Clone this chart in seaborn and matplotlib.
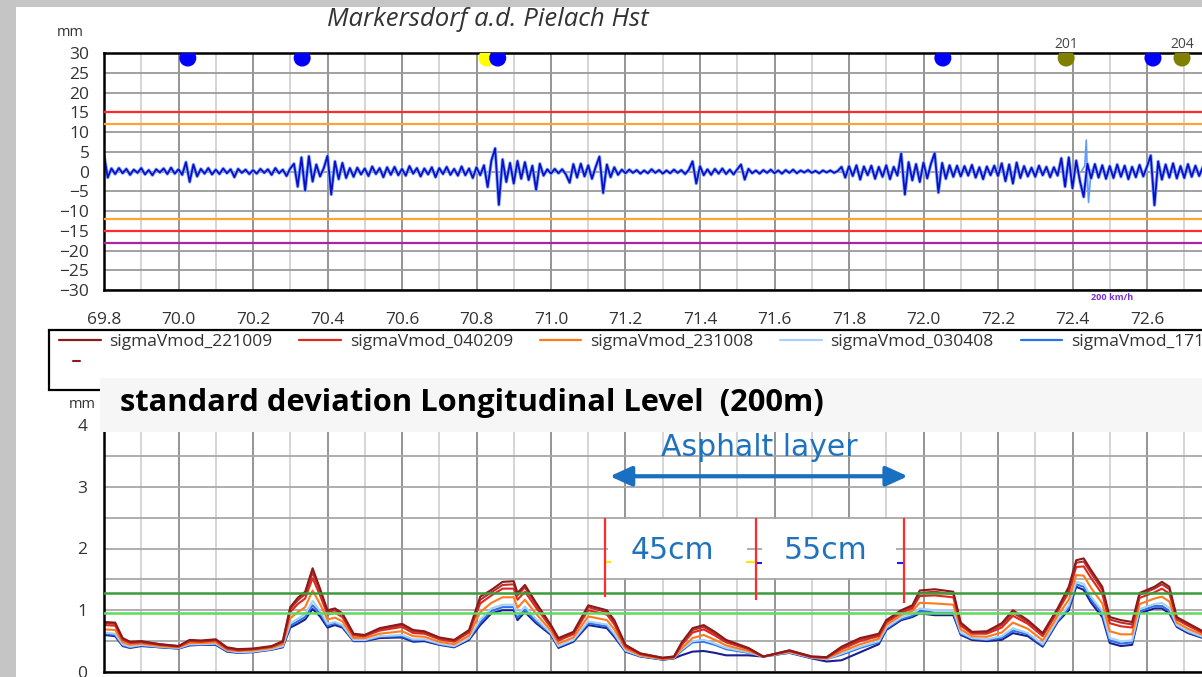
import numpy as np
import pandas as pd
import matplotlib
matplotlib.use("Agg")
import matplotlib.pyplot as plt
import matplotlib.patheffects as pe
from matplotlib.patches import Rectangle
from matplotlib.lines import Line2D
from matplotlib.ticker import MultipleLocator, FormatStrFormatter
import seaborn as sns

# ---------------- data ----------------
# top panel: longitudinal level signal, one value every 10 m from km 69.80
sig_start = 69.80
sig_step = 0.01
sig_mm = [
    4.2, -1.5, 0.8, -0.6, 0.9, -0.4, 0.7, -0.8, 0.5, -0.3,
    0.9, -0.7, 0.4, -0.9, 0.6, -0.2, 0.8, -0.6, 1.0, -0.5,
    0.6, -0.8, 2.4, -2.6, 1.8, -1.2, 0.7, -0.5, 0.9, -0.7,
    0.5, -0.6, 0.8, -0.4, 0.6, -1.4, 0.7, -0.3, 0.5, -0.6,
    0.4, -0.5, 0.7, -0.3, 0.6, -0.8, 0.9, -0.4, 0.5, -1.1,
    0.8, 2.0, -3.8, 3.6, -4.8, 3.9, -2.5, 1.8, -1.2, 0.9,
    4.0, -5.8, 2.6, -1.9, 2.2, -1.6, 0.9, -1.3, 1.0, -0.7,
    0.8, -1.1, 1.3, -0.6, 0.9, -1.4, 1.1, -0.8, 1.2, -0.9,
    0.7, -1.0, 1.4, -0.5, 0.9, -1.2, 0.8, -0.7, 1.1, -1.4,
    0.9, -0.6, 1.2, -0.8, 0.7, -1.0, 1.3, -0.9, 0.8, -1.6,
    1.1, -0.9, 1.6, -3.9, 2.8, 5.9, -8.4, 3.1, -2.6, 2.2,
    -3.0, 2.7, -1.8, 2.4, -2.1, 1.5, -4.6, 2.0, -1.0, 0.6,
    -0.5, 0.7, -0.4, 0.6, -0.7, -2.8, 1.9, -1.5, 2.0, -1.2,
    1.6, -1.8, 1.2, 3.8, -5.4, 1.8, -1.4, 1.1, -0.8, 0.5,
    -0.4, 0.5, -0.3, 0.4, -0.5, 0.3, -0.4, 0.6, -0.3, 0.4,
    -0.5, 0.3, -0.4, 0.5, -0.3, 0.4, -0.6, 0.5, 2.6, -3.0,
    1.4, -0.9, 0.6, -0.8, 0.7, -0.5, 0.8, -0.6, 0.5, -0.7,
    0.6, 1.8, -2.0, 0.7, -0.4, 0.3, -0.5, 0.4, -0.3, 0.5,
    -0.4, 0.3, -0.5, 0.4, -0.3, 0.5, -0.4, 0.3, -0.2, 0.4,
    -0.3, 0.2, -0.4, 0.3, -0.2, 0.3, -0.3, 0.2, 1.2, -1.5,
    1.4, -1.1, 1.6, -2.0, 1.3, -0.9, 1.5, -1.8, 1.2, -1.3,
    1.6, -1.9, 1.2, -1.0, 4.6, -5.8, 2.4, -2.2, 1.9, -2.6,
    2.3, -1.7, 2.0, 4.7, -5.3, 2.2, -1.8, 1.6, -1.3, 1.5,
    -1.2, 1.4, -1.0, 1.7, -1.5, 1.1, -1.9, 1.3, -0.9, 1.5,
    -1.1, 2.1, -2.4, 1.8, -3.0, 2.3, -1.6, 1.4, -1.2, 1.0,
    -1.3, 1.5, -0.9, 1.2, -1.4, 1.1, -1.0, 3.4, -3.8, 3.6,
    -4.2, 2.8, -2.4, -6.4, 2.0, -1.7, 1.9, -1.5, 1.6, -1.8,
    1.4, -1.6, 1.8, -1.3, 1.5, -1.9, 1.2, -1.4, 1.7, -1.2,
    1.3, 4.1, -8.5, 2.6, -2.0, 1.8, -1.5, 2.1, -1.7, 1.4,
    -1.6, 1.9, -1.3, 1.5, -1.1, 1.2,
]
# second (light blue) run, only visible at the spike near km 72.44
sig2_km = [72.425, 72.433, 72.437, 72.440, 72.443, 72.450]
sig2_mm = [0.3, 1.5, 8.0, -1.0, -7.8, 0.4]

limit_mm = [15, -15, 12, -12, -18]
limit_colors = ["#ff2a2a", "#ff2a2a", "#ffa432", "#ffa432", "#a8269f"]

marker_km = [70.025, 70.332, 70.828, 70.857, 72.052, 72.383, 72.616, 72.694]
marker_colors = ["#0000ff", "#0000ff", "#ffff00", "#0000ff", "#0000ff",
                 "#808000", "#0000ff", "#808000"]
marker_labels = {72.383: "201", 72.694: "204"}

# bottom panel: standard deviation (200 m window) per measuring run
km_sigma = [69.80, 69.83, 69.85, 69.87, 69.90, 69.95, 70.00, 70.03, 70.06, 70.10,
            70.13, 70.16, 70.20, 70.25, 70.28, 70.30, 70.32, 70.34, 70.36, 70.38,
            70.40, 70.42, 70.44, 70.47, 70.50, 70.54, 70.60, 70.63, 70.66, 70.70,
            70.74, 70.78, 70.81, 70.84, 70.87, 70.90, 70.91, 70.93, 70.96, 71.00,
            71.02, 71.06, 71.10, 71.15, 71.17, 71.20, 71.24, 71.30, 71.33, 71.35,
            71.38, 71.41, 71.44, 71.47, 71.53, 71.57, 71.64, 71.70, 71.74, 71.78,
            71.83, 71.88, 71.90, 71.94, 71.97, 71.99, 72.03, 72.08, 72.10, 72.13,
            72.17, 72.21, 72.24, 72.28, 72.32, 72.36, 72.39, 72.41, 72.43, 72.45,
            72.48, 72.50, 72.53, 72.56, 72.58, 72.62, 72.64, 72.66, 72.68, 72.71,
            72.75]
sigma_221009 = [0.81, 0.80, 0.55, 0.49, 0.50, 0.45, 0.42, 0.52, 0.51, 0.53,
                0.40, 0.37, 0.38, 0.42, 0.50, 1.05, 1.20, 1.30, 1.68, 1.35,
                1.00, 1.03, 0.95, 0.62, 0.60, 0.71, 0.78, 0.68, 0.66, 0.56,
                0.52, 0.68, 1.22, 1.33, 1.46, 1.47, 1.28, 1.41, 1.12, 0.76,
                0.55, 0.65, 1.08, 1.00, 0.84, 0.44, 0.30, 0.23, 0.25, 0.47,
                0.71, 0.76, 0.65, 0.52, 0.39, 0.25, 0.35, 0.25, 0.24, 0.41,
                0.55, 0.62, 0.84, 1.00, 1.08, 1.32, 1.34, 1.30, 0.80, 0.65,
                0.66, 0.79, 1.00, 0.84, 0.63, 1.03, 1.38, 1.81, 1.84, 1.65,
                1.38, 0.89, 0.84, 0.81, 1.28, 1.38, 1.46, 1.38, 0.89, 0.79,
                0.66]
sigma_run6 = [0.79, 0.78, 0.54, 0.48, 0.49, 0.45, 0.42, 0.51, 0.50, 0.52,
              0.39, 0.36, 0.37, 0.41, 0.49, 1.02, 1.16, 1.26, 1.61, 1.31,
              0.97, 1.00, 0.93, 0.61, 0.59, 0.69, 0.76, 0.66, 0.64, 0.55,
              0.51, 0.66, 1.17, 1.29, 1.41, 1.42, 1.24, 1.37, 1.09, 0.74,
              0.53, 0.63, 1.05, 0.97, 0.81, 0.43, 0.30, 0.23, 0.25, 0.45,
              0.68, 0.73, 0.62, 0.50, 0.38, 0.25, 0.35, 0.25, 0.24, 0.39,
              0.53, 0.60, 0.82, 0.98, 1.06, 1.28, 1.30, 1.26, 0.78, 0.64,
              0.64, 0.76, 0.96, 0.81, 0.61, 1.01, 1.34, 1.77, 1.79, 1.60,
              1.33, 0.85, 0.80, 0.77, 1.25, 1.35, 1.42, 1.34, 0.87, 0.77,
              0.65]
sigma_040209 = [0.76, 0.75, 0.52, 0.47, 0.48, 0.44, 0.41, 0.50, 0.49, 0.51,
                0.38, 0.35, 0.37, 0.41, 0.48, 0.97, 1.10, 1.19, 1.52, 1.24,
                0.93, 0.96, 0.89, 0.59, 0.58, 0.67, 0.73, 0.63, 0.62, 0.53,
                0.49, 0.64, 1.11, 1.24, 1.35, 1.35, 1.17, 1.30, 1.04, 0.72,
                0.51, 0.61, 1.00, 0.93, 0.77, 0.41, 0.29, 0.22, 0.24, 0.43,
                0.64, 0.69, 0.59, 0.48, 0.37, 0.25, 0.34, 0.24, 0.23, 0.37,
                0.50, 0.58, 0.80, 0.96, 1.03, 1.23, 1.24, 1.21, 0.75, 0.62,
                0.62, 0.72, 0.91, 0.78, 0.58, 0.98, 1.29, 1.70, 1.71, 1.52,
                1.26, 0.79, 0.74, 0.72, 1.20, 1.29, 1.35, 1.27, 0.85, 0.75,
                0.63]
sigma_231008 = [0.69, 0.68, 0.48, 0.44, 0.46, 0.42, 0.40, 0.47, 0.47, 0.48,
                0.36, 0.34, 0.35, 0.39, 0.45, 0.87, 0.97, 1.05, 1.32, 1.10,
                0.85, 0.88, 0.82, 0.55, 0.55, 0.62, 0.66, 0.58, 0.57, 0.49,
                0.45, 0.59, 0.97, 1.12, 1.21, 1.21, 1.04, 1.17, 0.94, 0.67,
                0.46, 0.56, 0.90, 0.84, 0.69, 0.38, 0.27, 0.21, 0.23, 0.38,
                0.55, 0.60, 0.52, 0.43, 0.34, 0.25, 0.33, 0.24, 0.22, 0.33,
                0.45, 0.54, 0.76, 0.92, 0.99, 1.12, 1.11, 1.09, 0.69, 0.58,
                0.57, 0.64, 0.80, 0.70, 0.51, 0.91, 1.17, 1.57, 1.56, 1.36,
                1.11, 0.66, 0.61, 0.61, 1.10, 1.19, 1.22, 1.14, 0.80, 0.70,
                0.60]
sigma_030408 = [0.64, 0.62, 0.45, 0.41, 0.44, 0.41, 0.39, 0.45, 0.45, 0.46,
                0.35, 0.32, 0.33, 0.37, 0.42, 0.79, 0.86, 0.94, 1.15, 0.99,
                0.78, 0.81, 0.76, 0.52, 0.52, 0.58, 0.60, 0.53, 0.53, 0.46,
                0.42, 0.55, 0.85, 1.03, 1.09, 1.09, 0.93, 1.06, 0.86, 0.63,
                0.42, 0.52, 0.82, 0.77, 0.62, 0.35, 0.26, 0.21, 0.23, 0.36,
                0.50, 0.52, 0.46, 0.39, 0.32, 0.25, 0.32, 0.23, 0.21, 0.30,
                0.41, 0.50, 0.72, 0.88, 0.94, 1.03, 1.00, 1.00, 0.64, 0.55,
                0.53, 0.58, 0.71, 0.63, 0.45, 0.85, 1.08, 1.46, 1.43, 1.22,
                0.99, 0.55, 0.50, 0.51, 1.02, 1.10, 1.12, 1.04, 0.76, 0.66,
                0.57]
sigma_1710 = [0.62, 0.60, 0.43, 0.40, 0.43, 0.40, 0.38, 0.44, 0.45, 0.45,
              0.34, 0.32, 0.33, 0.37, 0.41, 0.75, 0.82, 0.89, 1.08, 0.95,
              0.75, 0.79, 0.74, 0.51, 0.51, 0.57, 0.58, 0.51, 0.52, 0.45,
              0.41, 0.54, 0.80, 0.99, 1.05, 1.05, 0.88, 1.01, 0.82, 0.62,
              0.41, 0.51, 0.79, 0.74, 0.60, 0.34, 0.26, 0.20, 0.22, 0.34,
              0.48, 0.49, 0.44, 0.37, 0.31, 0.25, 0.32, 0.23, 0.21, 0.28,
              0.39, 0.48, 0.70, 0.86, 0.91, 0.99, 0.96, 0.96, 0.62, 0.54,
              0.52, 0.55, 0.67, 0.61, 0.43, 0.83, 1.04, 1.42, 1.38, 1.17,
              0.94, 0.51, 0.46, 0.48, 0.98, 1.07, 1.07, 0.99, 0.75, 0.65,
              0.56]
sigma_run7 = [0.60, 0.58, 0.42, 0.39, 0.42, 0.40, 0.38, 0.43, 0.44, 0.44,
              0.33, 0.31, 0.32, 0.36, 0.40, 0.72, 0.78, 0.85, 1.02, 0.90,
              0.72, 0.76, 0.72, 0.50, 0.50, 0.55, 0.56, 0.49, 0.50, 0.44,
              0.40, 0.52, 0.76, 0.95, 1.00, 1.00, 0.84, 0.97, 0.79, 0.60,
              0.39, 0.49, 0.76, 0.71, 0.57, 0.33, 0.25, 0.20, 0.22, 0.27,
              0.33, 0.34, 0.31, 0.27, 0.27, 0.25, 0.31, 0.22, 0.17, 0.19,
              0.32, 0.45, 0.68, 0.84, 0.89, 0.95, 0.92, 0.92, 0.60, 0.52,
              0.50, 0.52, 0.63, 0.58, 0.41, 0.81, 1.00, 1.38, 1.33, 1.12,
              0.89, 0.47, 0.42, 0.44, 0.95, 1.03, 1.03, 0.95, 0.73, 0.63,
              0.55]

runs = ["sigmaVmod_221009", "sigmaVmod_run6", "sigmaVmod_040209", "sigmaVmod_231008",
        "sigmaVmod_030408", "sigmaVmod_171008", "sigmaVmod_run7"]
run_values = [sigma_221009, sigma_run6, sigma_040209, sigma_231008,
              sigma_030408, sigma_1710, sigma_run7]
run_colors = ["#8b1a1a", "#b8322a", "#e3261e", "#ff7a1c", "#a9d1f7", "#2a73e8", "#1b1f8f"]
legend_runs = runs[0:1] + runs[2:6]

sigma_limits = [1.28, 0.96]
sigma_limit_colors = ["#3c9c3c", "#5fd95f"]

# asphalt layer section
asphalt_km = [71.158, 71.958]
cut_km = [71.145, 71.55, 71.948]
cut_bottom = [1.21, 1.17, 1.12]
depth_labels = ["45cm", "55cm"]
depth_km = [71.327, 71.738]

# ---------------- figure ----------------
W, H = 1202, 677
sns.set_style("white")
plt.rcParams["font.family"] = ["Open Sans", "DejaVu Sans"]

fig = plt.figure(figsize=(W / 100, H / 100), dpi=100, facecolor="#c5c5c5")


def fx(px):
    return px / W


def fy(py):
    return 1 - py / H


fig.add_artist(Rectangle((fx(16), 0), 1, fy(7), transform=fig.transFigure,
                         facecolor="white", edgecolor="none", zorder=-5))

x_lim = (69.8, 69.8 + 1098 / 372.5)
tick_col = "#333333"

# ---- top panel ----
ax1 = fig.add_axes([fx(104), fy(290), 1098 / W, (290 - 53.3) / H])
sig_km = sig_start + sig_step * np.arange(len(sig_mm))
sns.lineplot(x=sig2_km, y=sig2_mm, ax=ax1, color="#5f9bff", lw=1.2, sort=False)
sns.lineplot(x=sig_km, y=sig_mm, ax=ax1, color="#0b10c6", lw=1.3,
             path_effects=[pe.Stroke(linewidth=2.5, foreground="#86adff"), pe.Normal()])
for val, col in zip(limit_mm, limit_colors):
    ax1.axhline(val, color=col, lw=1.6, zorder=3)
ax1.scatter(marker_km, np.full(len(marker_km), 28.8), s=150, c=marker_colors,
            linewidths=0, zorder=5)
for km, lab in marker_labels.items():
    ax1.text(km, 32.2, lab, ha="center", va="center", fontsize=10, color="#444444",
             clip_on=False)

ax1.set_xlim(*x_lim)
ax1.set_ylim(-30, 30)
ax1.yaxis.set_major_locator(MultipleLocator(5))
ax1.xaxis.set_major_locator(MultipleLocator(0.2))
ax1.xaxis.set_minor_locator(MultipleLocator(0.1))
ax1.xaxis.set_major_formatter(FormatStrFormatter("%.1f"))
ax1.grid(which="major", axis="x", color="#8c8c8c", lw=1.3)
ax1.grid(which="minor", axis="x", color="#d2d2d2", lw=1.3)
ax1.grid(which="major", axis="y", color="#9a9a9a", lw=1.3)
ax1.tick_params(axis="y", which="major", direction="out", length=8.5, width=1.3,
                color="#9a9a9a", pad=2, labelsize=12.5, labelcolor=tick_col)
ax1.tick_params(axis="x", which="major", direction="out", length=6, width=1.2,
                color="#333333", pad=10, labelsize=12.5, labelcolor=tick_col)
ax1.tick_params(axis="x", which="minor", direction="out", length=4, width=1.2,
                color="#333333")
ax1.set_xlabel("")
ax1.set_ylabel("")
for side in ["top", "left", "bottom"]:
    ax1.spines[side].set_color("black")
    ax1.spines[side].set_linewidth(1.8)
ax1.spines["right"].set_visible(False)

# ---- bottom panel ----
ax2 = fig.add_axes([fx(104), fy(672), 1098 / W, (672 - 425) / H])
sigma_df = pd.concat([pd.DataFrame({"km": km_sigma, "sigma": vals, "run": name})
                      for name, vals in zip(runs, run_values)], ignore_index=True)
draw_order = runs[::-1]
palette = dict(zip(runs, run_colors))
sns.lineplot(data=sigma_df, x="km", y="sigma", hue="run", hue_order=draw_order,
             palette=palette, lw=1.5, ax=ax2, legend=False)
for val, col in zip(sigma_limits, sigma_limit_colors):
    ax2.axhline(val, color=col, lw=1.8, zorder=3)

ax2.set_xlim(*x_lim)
ax2.set_ylim(0, 4)
ax2.xaxis.set_major_locator(MultipleLocator(0.2))
ax2.xaxis.set_minor_locator(MultipleLocator(0.1))
ax2.yaxis.set_major_locator(MultipleLocator(1))
ax2.yaxis.set_minor_locator(MultipleLocator(0.5))
ax2.grid(which="major", axis="x", color="#8c8c8c", lw=1.3)
ax2.grid(which="minor", axis="x", color="#d2d2d2", lw=1.3)
ax2.grid(which="both", axis="y", color="#a8a8a8", lw=1.3)
ax2.tick_params(axis="y", which="major", direction="out", length=6, width=1.2,
                color="#555555", pad=6, labelsize=12.5, labelcolor=tick_col)
ax2.tick_params(axis="y", which="minor", direction="out", length=4, width=1.2,
                color="#555555")
ax2.tick_params(axis="x", which="both", labelbottom=False, length=4, color="#333333")
ax2.set_xlabel("")
ax2.set_ylabel("")
for side in ["left", "bottom"]:
    ax2.spines[side].set_color("black")
    ax2.spines[side].set_linewidth(1.8)
ax2.spines["top"].set_visible(False)
ax2.spines["right"].set_visible(False)

# asphalt annotation
ax2.annotate("", xy=(asphalt_km[1], 3.17), xytext=(asphalt_km[0], 3.17),
             arrowprops=dict(arrowstyle="<|-|>,head_length=0.55,head_width=0.25",
                             color="#1a70c0", lw=3, mutation_scale=24,
                             shrinkA=0, shrinkB=0), zorder=6)
ax2.text(np.mean(asphalt_km), 3.64, "Asphalt layer", family="DejaVu Sans",
         fontsize=21.5, color="#1f73be", ha="center", va="center", zorder=6)
for x0, x1 in [(71.153, 71.526), (71.566, 71.925)]:
    ax2.add_patch(Rectangle((x0, 1.52), x1 - x0, 0.96, facecolor="white",
                            edgecolor="none", zorder=4))
ax2.vlines(cut_km, cut_bottom, 2.49, color="#ff2a2a", lw=1.6, zorder=5)
ax2.hlines([1.78, 1.78], [71.148, 71.523], [71.160, 71.547], color="#ffe600", lw=1.5, zorder=5)
ax2.hlines([1.77, 1.77], [71.552, 71.930], [71.566, 71.944], color="#1e1ee0", lw=1.5, zorder=5)
for km, lab in zip(depth_km, depth_labels):
    ax2.text(km, 1.97, lab, family="DejaVu Sans", fontsize=21.5, color="#1f73be",
             ha="center", va="center", zorder=6)

# ---- figure furniture: title, units, legend box, section title ----
fig.text(fx(488), fy(19), "Markersdorf a.d. Pielach Hst", fontsize=18.5, style="italic",
         color="#333333", ha="center", va="center")
fig.text(fx(70), fy(33), "mm", fontsize=10.5, color="#333333", ha="center", va="center")
fig.text(fx(82), fy(405), "mm", fontsize=10.5, color="#333333", ha="center", va="center")
fig.text(fx(1112), fy(298), "200 km/h", fontsize=6.5, fontweight="bold", color="#7b2fd8",
         ha="center", va="center")

fig.add_artist(Rectangle((fx(49), fy(390)), (1230 - 49) / W, 60 / H,
                         transform=fig.transFigure, facecolor="white",
                         edgecolor="black", lw=1.6, zorder=1))
handles = [Line2D([], [], color=palette[r], lw=1.6) for r in legend_runs]
fig.legend(handles, legend_runs, loc="upper left", bbox_to_anchor=(fx(59), fy(334)),
           ncol=5, frameon=False, fontsize=12.5, handlelength=2.4, handletextpad=0.5,
           columnspacing=1.55, borderpad=0, borderaxespad=0,
           labelcolor="#333333").set_zorder(2)
fig.add_artist(Line2D([fx(73), fx(80)], [fy(361), fy(361)], transform=fig.transFigure,
                      color="#8b1a1a", lw=1.5, zorder=2))

fig.add_artist(Rectangle((fx(100), fy(432)), (1202 - 100) / W, 54 / H,
                         transform=fig.transFigure, facecolor="#f6f6f6",
                         edgecolor="none", zorder=3))
fig.text(fx(120), fy(403), "standard deviation Longitudinal Level  (200m)",
         family="Open Sans", fontsize=22.2, fontweight="bold", color="black",
         ha="left", va="center", zorder=4)

fig.savefig("out.png", dpi=100, facecolor=fig.get_facecolor())
